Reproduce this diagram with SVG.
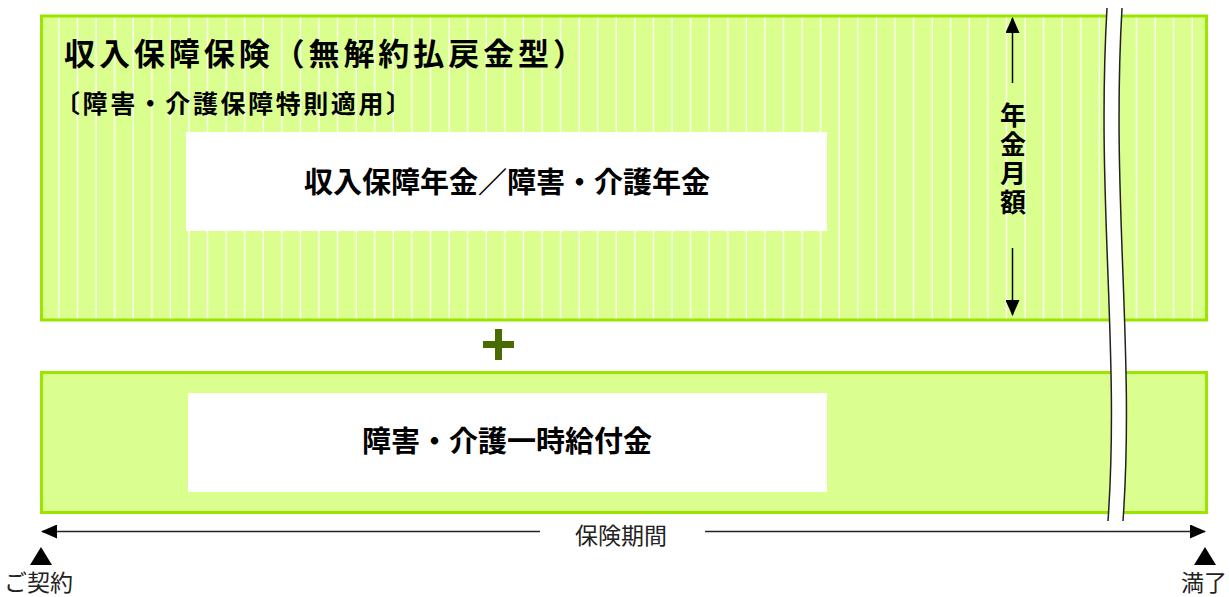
<svg xmlns="http://www.w3.org/2000/svg" width="1229" height="597" viewBox="0 0 1229 597">
<style>
.box{fill:#daff8e;stroke:#99e500;stroke-width:3}
.inner{fill:#ffffff}
.bold{font-family:"Noto Sans CJK JP","Noto Sans",sans-serif;font-weight:bold;fill:#000}
.norm{font-family:"Noto Sans CJK JP","Noto Sans",sans-serif;fill:#222}
.line{stroke:#222;stroke-width:1.5;fill:none}
.brk{stroke:#222;stroke-width:1.5;fill:none}
.tri{fill:#000}
</style>
<defs>
<pattern id="stripes" patternUnits="userSpaceOnUse" x="41" y="0" width="18.58" height="10">
<rect x="0" y="0" width="18.58" height="10" fill="#daff8e"/>
<rect x="17.3" y="0" width="3" height="10" fill="#ffffff"/>
</pattern>
<marker id="ah" viewBox="0 0 16 14" refX="15" refY="7" markerWidth="16" markerHeight="14" markerUnits="userSpaceOnUse" orient="auto">
<path d="M0,0 L16,7 L0,14 Z" fill="#000"/>
</marker>
</defs>

<g id="node-top">
<rect class="box" x="41.5" y="16" width="1165" height="304" style="fill:url(#stripes)"/>
<text class="bold" x="64" y="65" font-size="31" textLength="520" lengthAdjust="spacing">収入保障保険（無解約払戻金型）</text>
<text class="bold" x="55" y="113" font-size="25" textLength="356" lengthAdjust="spacing">〔障害・介護保障特則適用〕</text>
</g>

<g id="node-annuity">
<rect class="inner" x="186" y="132" width="641" height="99"/>
<text class="bold" x="507" y="193" font-size="29" text-anchor="middle">収入保障年金／障害・介護年金</text>
</g>

<g id="node-amount">
<text class="bold" x="1013" y="160" font-size="26" text-anchor="middle" writing-mode="vertical-rl" letter-spacing="3">年金月額</text>
</g>

<g id="node-plus">
<path d="M498.5,329 V360 M483,344.5 H514" stroke="#4a6b00" stroke-width="7" fill="none"/>
</g>

<g id="node-bottom">
<rect class="box" x="41.5" y="372.5" width="1165" height="140"/>
<rect class="inner" x="188" y="393" width="639" height="99"/>
<text class="bold" x="507" y="452" font-size="29" text-anchor="middle">障害・介護一時給付金</text>
</g>

<g id="node-break">
<path d="M1107,8 C1096,200 1120,350 1108,521 L1123,521 C1135,350 1111,200 1122,8 Z" fill="#ffffff"/>
<path class="brk" d="M1107,8 C1096,200 1120,350 1108,521"/>
<path class="brk" d="M1122,8 C1111,200 1135,350 1123,521"/>
</g>

<g id="node-period">
<text class="norm" x="621" y="544" font-size="23" text-anchor="middle">保険期間</text>
</g>

<g id="node-start">
<polygon class="tri" points="41,547 30,565 52,565"/>
<text class="norm" x="4" y="591" font-size="23">ご契約</text>
</g>

<g id="node-end">
<polygon class="tri" points="1205,547 1194,565 1216,565"/>
<text class="norm" x="1181" y="591" font-size="23">満了</text>
</g>

<g id="connectors">
<line class="line" x1="540" y1="531.5" x2="42" y2="531.5" marker-end="url(#ah)"/>
<line class="line" x1="705" y1="531.5" x2="1205" y2="531.5" marker-end="url(#ah)"/>
<line stroke="#000" stroke-width="1.5" x1="1012.5" y1="83" x2="1012.5" y2="18" marker-end="url(#ah)"/>
<line stroke="#000" stroke-width="1.5" x1="1012.5" y1="248" x2="1012.5" y2="315" marker-end="url(#ah)"/>
</g>
</svg>
